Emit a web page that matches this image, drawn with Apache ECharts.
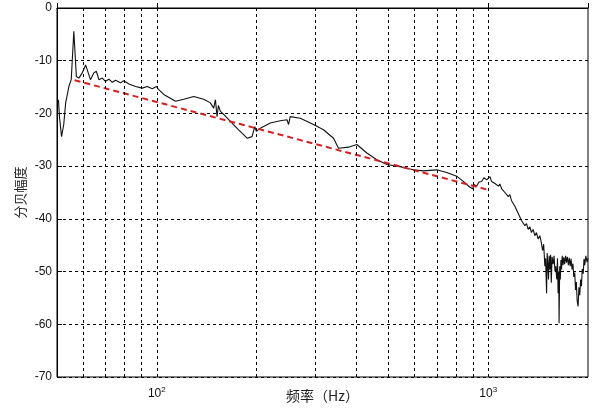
<!DOCTYPE html>
<html>
<head>
<meta charset="utf-8">
<script src="https://cdn.jsdelivr.net/npm/echarts@6/dist/echarts.min.js"></script>
<style>
  html, body { margin: 0; padding: 0; background: #fff; }
  #main { width: 592px; height: 414px; }
</style>
</head>
<body>
<div id="main"></div>
<script>
// 频率 (Hz) / 分贝幅度 读自原图
var freqs = [50.5, 50.9, 51.6, 52.4, 53.1, 54.3, 55.2, 56.2, 57.2, 58.2,
  59.6, 61.0, 62.4, 63.1, 64.6, 65.7, 66.9, 68.5, 70.0, 71.7,
  73.4, 75.1, 77.7, 79.5, 82.4, 86.3, 90.4, 93.6, 96.9, 99.8,
  101.4, 105.0, 113.9, 120.6, 129.3, 138.5, 145.1, 148.5, 150.3, 152.0,
  153.4, 155.6, 159.2, 166.7, 176.6, 187.3, 193.8, 197.6, 199.7, 205.3,
  220.0, 235.8, 247.1, 249.8, 252.7, 271.0, 297.1, 318.4, 341.4, 353.4,
  357.6, 378.7, 401.5, 430.3, 461.2, 494.3, 542.0, 594.6, 637.3, 699.1,
  749.4, 803.2, 841.0, 880.9, 897.5, 905.7, 922.6, 937.6, 955.2, 970.5,
  989.0, 1000, 1012, 1023, 1035, 1048, 1062, 1073, 1084, 1098,
  1110, 1123, 1136, 1150, 1162, 1175, 1189, 1203, 1217, 1232,
  1246, 1260, 1275, 1290, 1305, 1320, 1335, 1350, 1366, 1382,
  1398, 1414, 1431, 1445, 1459, 1470, 1482, 1490, 1500, 1506,
  1513, 1520, 1527, 1534, 1542, 1550, 1558, 1570, 1580, 1590,
  1599, 1610, 1618, 1625, 1632, 1636, 1643, 1650, 1657, 1664,
  1672, 1681, 1690, 1700, 1711, 1722, 1733, 1745, 1756, 1767,
  1778, 1790, 1801, 1812, 1824, 1834, 1844, 1855, 1867, 1878,
  1889, 1900, 1911, 1922, 1935, 1945, 1956, 1970, 1987, 2000];
var levels = [-17.4, -20.8, -24.4, -22.1, -18.0, -14.9, -13.6, -4.4, -13.0, -13.3,
  -12.3, -10.8, -12.7, -13.6, -12.3, -12.0, -13.6, -13.3, -13.9, -13.5,
  -14.1, -13.7, -14.2, -13.8, -14.4, -14.9, -15.2, -14.9, -15.3, -14.9,
  -15.5, -16.4, -17.7, -17.3, -16.8, -17.3, -18.0, -19.0, -17.4, -20.6,
  -18.5, -19.6, -20.2, -21.5, -23.1, -24.7, -24.4, -22.5, -23.4, -22.8,
  -21.8, -21.4, -21.2, -22.1, -20.6, -20.9, -22.1, -23.1, -24.7, -26.6,
  -26.9, -26.4, -25.9, -27.5, -28.8, -29.7, -30.1, -30.7, -30.9, -30.7,
  -31.2, -31.9, -32.9, -34.0, -34.3, -33.5, -33.8, -33.0, -32.9, -32.2,
  -32.6, -32.4, -32.0, -32.9, -32.6, -33.3, -33.0, -33.8, -33.4, -34.3,
  -34.0, -35.0, -34.8, -35.8, -35.4, -36.5, -36.4, -37.6, -37.4, -39.0,
  -38.8, -40.3, -40.0, -41.3, -40.9, -42.0, -41.5, -42.6, -42.0, -43.2,
  -42.6, -43.8, -43.2, -44.4, -46.0, -44.8, -49.0, -47.5, -54.1, -46.5,
  -48.5, -51.5, -47.0, -49.6, -46.8, -52.1, -47.2, -48.6, -47.0, -50.0,
  -49.0, -51.5, -47.5, -54.1, -50.0, -59.8, -49.0, -51.5, -47.8, -49.6,
  -47.0, -48.8, -47.3, -48.6, -47.0, -48.3, -47.2, -48.8, -47.4, -49.0,
  -47.6, -49.6, -48.5, -51.0, -50.2, -53.5, -52.0, -55.5, -56.6, -53.0,
  -54.5, -51.5, -52.8, -49.5, -50.4, -47.6, -48.8, -47.0, -48.2, -47.5];

// 红色拟合直线
var fitFreqs = [56.5, 1000];
var fitLevels = [-13.7, -34.5];

// 竖向网格线
var gridFreqs = [60, 70, 80, 90, 100, 200, 300, 400, 500, 600, 700, 800, 900, 1000];

var chart = echarts.init(document.getElementById('main'), null, { renderer: 'canvas' });

var measured = freqs.map(function (f, i) { return [f, levels[i]]; });
var fit = fitFreqs.map(function (f, i) { return [f, fitLevels[i]]; });

var option = {
  backgroundColor: '#fff',
  animation: false,
  grid: {
    left: 57,
    right: 4,
    top: 8,
    bottom: 37,
    outerBoundsMode: 'none',
    containLabel: false,
    show: true,
    borderColor: '#000',
    borderWidth: 1,
    backgroundColor: '#fff'
  },
  xAxis: {
    type: 'log',
    logBase: 10,
    min: 50,
    max: 2000,
    name: '频率（Hz）',
    nameLocation: 'middle',
    nameGap: 12,
    nameMoveOverlap: false,
    nameTextStyle: {
      fontFamily: 'Noto Sans CJK SC',
      fontSize: 14,
      color: '#222',
      verticalAlign: 'top'
    },
    axisLine: { lineStyle: { color: '#000', width: 1 } },
    axisTick: { inside: true, length: 5, lineStyle: { color: '#000' } },
    splitLine: { show: false },
    axisLabel: {
      margin: 9,
      color: '#111',
      fontFamily: 'Liberation Sans',
      fontSize: 12,
      formatter: function (v) {
        if (Math.abs(v - 100) < 1e-6) return '10{sup|2}';
        if (Math.abs(v - 1000) < 1e-6) return '10{sup|3}';
        return '';
      },
      rich: {
        sup: { fontSize: 8, verticalAlign: 'top', padding: [0, 0, 8, 0], fontFamily: 'Liberation Sans', color: '#111' }
      }
    }
  },
  yAxis: {
    type: 'value',
    min: -70,
    max: 0,
    interval: 10,
    name: '分贝幅度',
    nameLocation: 'middle',
    nameGap: 30,
    nameMoveOverlap: false,
    nameTextStyle: {
      fontFamily: 'Noto Sans CJK SC',
      fontSize: 13,
      color: '#222'
    },
    axisLine: { show: true, lineStyle: { color: '#000', width: 1 } },
    axisTick: { show: true, inside: true, length: 5, lineStyle: { color: '#000' } },
    splitLine: { show: true, lineStyle: { color: '#000', width: 1, type: [3, 3] } },
    axisLabel: {
      margin: 5,
      color: '#111',
      fontFamily: 'Liberation Sans',
      fontSize: 12
    }
  },
  series: [{
    // 网格线
    type: 'line',
    data: [],
    z: 1,
    silent: true,
    markLine: {
      silent: true,
      symbol: 'none',
      label: { show: false },
      lineStyle: { color: '#000', width: 1, type: [3, 3] },
      data: gridFreqs.map(function (f) { return { xAxis: f }; })
    }
  }, {
    name: 'measured',
    type: 'line',
    data: measured,
    symbol: 'none',
    z: 3,
    lineStyle: { color: '#111', width: 1.1 }
  }, {
    name: 'fit',
    type: 'line',
    data: fit,
    symbol: 'none',
    z: 4,
    lineStyle: { color: '#d42020', width: 2, type: [6, 4] }
  }]
};

try {
  chart.setOption(option);
} catch (e) {
  console.log(e);
}
</script>
</body>
</html>
